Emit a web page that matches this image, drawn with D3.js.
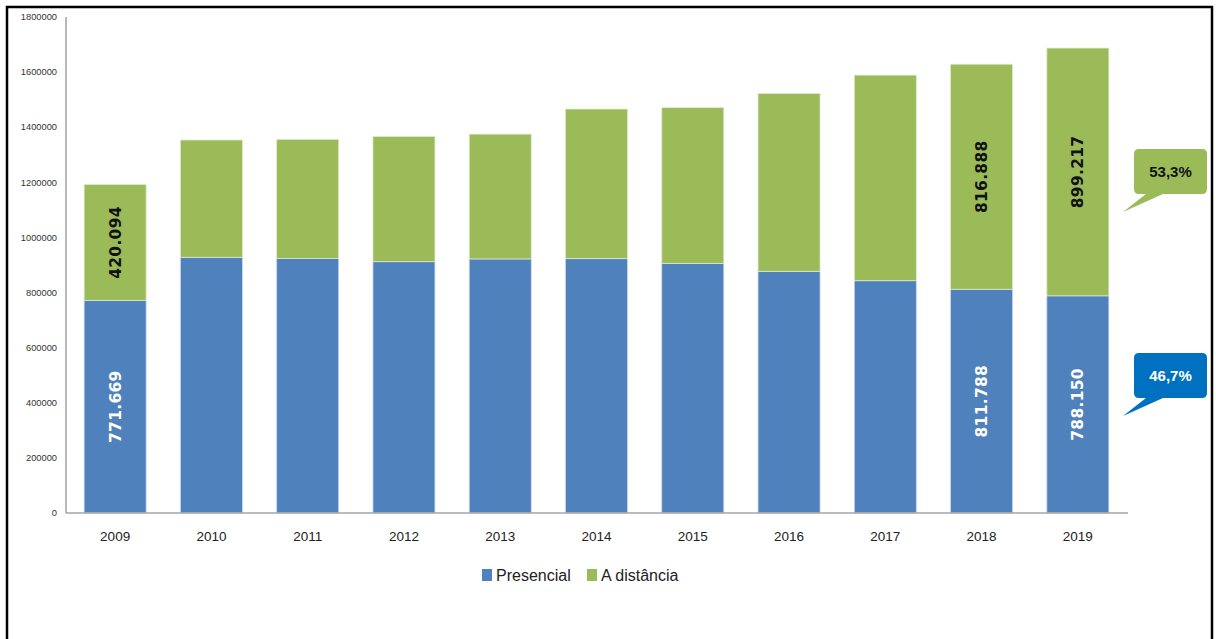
<!DOCTYPE html>
<html>
<head>
<meta charset="utf-8">
<script src="https://cdn.jsdelivr.net/npm/d3@7"></script>
<style>
  html, body { margin: 0; padding: 0; background: #fff; }
  svg { display: block; }
</style>
</head>
<body>
<svg id="chart" width="1216" height="639"></svg>
<script>
// ---- data ----
const years = [2009, 2010, 2011, 2012, 2013, 2014, 2015, 2016, 2017, 2018, 2019];
const presencial = [771669, 928000, 924000, 912000, 922000, 923000, 906000, 877000, 843000, 811788, 788150];
const distancia  = [420094, 425600, 432000, 454000, 453000, 543000, 565000, 645000, 746000, 816888, 899217];
const labelYears = [2009, 2018, 2019];
const yTicks = [0, 200000, 400000, 600000, 800000, 1000000, 1200000, 1400000, 1600000, 1800000];
const seriesNames = ["Presencial", "A distância"];
const callouts = ["53,3%", "46,7%"];

const colors = { pres: "#4f81bd", dist: "#9bbb59", presCall: "#0070c0" };

const svg = d3.select("#chart");
const fmt = d3.formatLocale({ decimal: ",", thousands: ".", grouping: [3], currency: ["", ""] }).format(",d");

// frame
svg.append("path")
  .attr("d", "M7,639 L7,7 L1212,7 L1212,639")
  .attr("fill", "none").attr("stroke", "#000").attr("stroke-width", 2.5);

const x = d3.scaleBand().domain(years).range([67, 1126]).paddingInner(0.356).paddingOuter(0.178);
const y = d3.scaleLinear().domain([0, 1800000]).range([513, 17]);

// y tick labels
svg.append("g").selectAll("text").data(yTicks).join("text")
  .attr("x", 57).attr("y", d => y(d)).attr("dy", "0.35em")
  .attr("text-anchor", "end")
  .attr("font-family", "Liberation Sans, Arial, sans-serif")
  .attr("font-size", 9.3).attr("fill", "#333")
  .text(d => d3.format("d")(d));

// bars
const data = years.map((yr, i) => ({ yr, p: presencial[i], d: distancia[i] }));
const g = svg.append("g");
g.selectAll("rect.p").data(data).join("rect").attr("class", "p")
  .attr("x", d => x(d.yr)).attr("width", x.bandwidth())
  .attr("y", d => y(d.p)).attr("height", d => y(0) - y(d.p))
  .attr("fill", colors.pres).attr("stroke", "#c9d8ec").attr("stroke-width", 0.8);
g.selectAll("rect.d").data(data).join("rect").attr("class", "d")
  .attr("x", d => x(d.yr)).attr("width", x.bandwidth())
  .attr("y", d => y(d.p + d.d)).attr("height", d => y(d.p) - y(d.p + d.d))
  .attr("fill", colors.dist).attr("stroke", "#dfe9cc").attr("stroke-width", 0.8);

// axes lines
svg.append("line").attr("x1", 66).attr("x2", 66).attr("y1", 17).attr("y2", 513)
  .attr("stroke", "#a6a6a6").attr("stroke-width", 1.6);
svg.append("line").attr("x1", 66).attr("x2", 1128).attr("y1", 513).attr("y2", 513)
  .attr("stroke", "#a6a6a6").attr("stroke-width", 1.6);

// x labels
svg.append("g").selectAll("text").data(years).join("text")
  .attr("x", d => x(d) + x.bandwidth() / 2).attr("y", 541)
  .attr("text-anchor", "middle")
  .attr("font-family", "Liberation Sans, Arial, sans-serif")
  .attr("font-size", 13.5).attr("fill", "#222")
  .text(d => d);

// data labels (rotated)
const lab = data.filter(d => labelYears.includes(d.yr));
function rotLabel(sel, ymid, val, fill) {
  sel.append("text")
    .attr("transform", d => `translate(${x(d.yr) + x.bandwidth() / 2},${ymid(d)}) rotate(-90)`)
    .attr("text-anchor", "middle").attr("dy", "0.36em")
    .attr("font-family", "DejaVu Sans, Liberation Sans, Arial, sans-serif")
    .attr("font-weight", "bold").attr("font-size", 15.5)
    .attr("letter-spacing", 0.3)
    .attr("fill", fill)
    .text(d => fmt(val(d)));
}
lab.forEach(d => {
  const s = svg.append("g").datum(d);
  rotLabel(s, d => (y(0) + y(d.p)) / 2, d => d.p, "#fff");
  rotLabel(s, d => (y(d.p) + y(d.p + d.d)) / 2, d => d.d, "#111");
});

// callouts
function callout(x0, y0, x1, y1, tipX, tipY, fill, textFill, txt) {
  const r = 5;
  const p = d3.path();
  p.moveTo(x0 + r, y0);
  p.lineTo(x1 - r, y0); p.quadraticCurveTo(x1, y0, x1, y0 + r);
  p.lineTo(x1, y1 - r); p.quadraticCurveTo(x1, y1, x1 - r, y1);
  p.lineTo(x0 + 29, y1);
  p.lineTo(tipX, tipY);
  p.lineTo(x0 + 12, y1);
  p.lineTo(x0 + r, y1); p.quadraticCurveTo(x0, y1, x0, y1 - r);
  p.lineTo(x0, y0 + r); p.quadraticCurveTo(x0, y0, x0 + r, y0);
  p.closePath();
  svg.append("path").attr("d", p.toString()).attr("fill", fill);
  svg.append("text").attr("x", (x0 + x1) / 2).attr("y", (y0 + y1) / 2).attr("dy", "0.36em")
    .attr("text-anchor", "middle")
    .attr("font-family", "Liberation Sans, Arial, sans-serif")
    .attr("font-weight", "bold").attr("font-size", 15)
    .attr("fill", textFill).text(txt);
}
callout(1134, 149, 1207, 194, 1123, 212, colors.dist, "#111", callouts[0]);
callout(1134, 353, 1207, 398, 1123, 416, colors.presCall, "#fff", callouts[1]);

// legend
const legend = [
  { name: seriesNames[0], color: colors.pres, x: 482 },
  { name: seriesNames[1], color: colors.dist, x: 587 }
];
const lg = svg.append("g").selectAll("g").data(legend).join("g")
  .attr("transform", d => `translate(${d.x},0)`);
lg.append("rect").attr("x", 0).attr("y", 569).attr("width", 10).attr("height", 12).attr("fill", d => d.color);
lg.append("text").attr("x", 14).attr("y", 575).attr("dy", "0.36em")
  .attr("font-family", "Liberation Sans, Arial, sans-serif")
  .attr("font-size", 16).attr("fill", "#222")
  .text(d => d.name);
</script>
</body>
</html>
